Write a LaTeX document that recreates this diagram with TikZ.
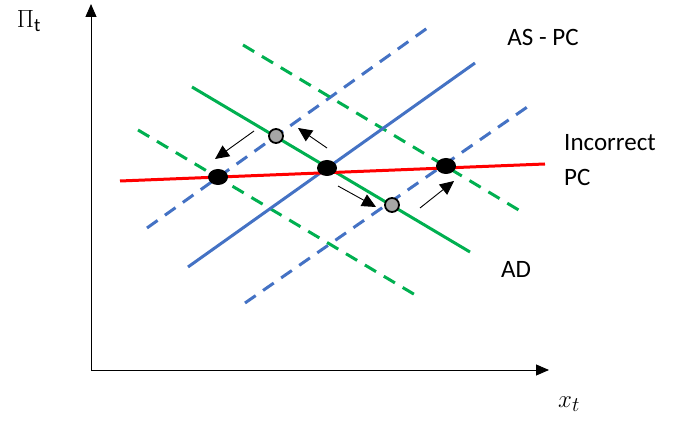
\documentclass[tikz,border=0pt]{standalone}
\usepackage{fontspec}
\setmainfont{Carlito}
\usetikzlibrary{arrows.meta,shapes.geometric}
\definecolor{ablue}{HTML}{4472C4}
\definecolor{agreen}{HTML}{00B050}
\definecolor{ared}{HTML}{FF0000}
\definecolor{cgray}{HTML}{A6A6A6}
\tikzset{
  axisline/.style={line width=1pt,-{Triangle[length=13pt,width=11pt]}},
  curve/.style={line width=3pt},
  dashcurve/.style={line width=3pt,dash pattern=on 13pt off 9pt},
  movearrow/.style={line width=0.9pt,-{Triangle[length=14pt,width=13pt]}},
  eqdot/.style={ellipse,fill=black,minimum width=20pt,minimum height=16pt,inner sep=0pt},
  tmpdot/.style={circle,fill=cgray,draw=black,line width=1.8pt,minimum size=14pt,inner sep=0pt},
  lbl/.style={font=\fontsize{25}{29}\selectfont,inner sep=0pt}
}
\begin{document}
\begin{tikzpicture}[x=1pt,y=-1pt]
\useasboundingbox (0,0) rectangle (679,427);
% axes
\coordinate (O) at (91,370);
\coordinate (ytop) at (91,4);
\coordinate (xend) at (549,370);
\draw[axisline] (O) -- (ytop);
\draw[axisline] (O) -- (xend);
% dashed shifted curves
\coordinate (bu1) at (147,228); \coordinate (bu2) at (433,24);
\coordinate (bl1) at (245,303); \coordinate (bl2) at (533,103);
\coordinate (gu1) at (243,45);  \coordinate (gu2) at (522,212);
\coordinate (gl1) at (138,130); \coordinate (gl2) at (417,296);
\draw[dashcurve,ablue] (bu1) -- (bu2);
\draw[dashcurve,ablue] (bl1) -- (bl2);
\draw[dashcurve,agreen] (gu1) -- (gu2);
\draw[dashcurve,agreen] (gl1) -- (gl2);
% solid curves
\coordinate (as1) at (188,267); \coordinate (as2) at (475,63);
\coordinate (ad1) at (192,87);  \coordinate (ad2) at (470,252);
\draw[curve,ablue] (as1) -- (as2);
\draw[curve,agreen] (ad1) -- (ad2);
\coordinate (pc1) at (120,181); \coordinate (pc2) at (545,164);
\draw[curve,ared] (pc1) -- (pc2);
% points
\node[eqdot] (E0) at (327,168) {};
\node[eqdot] (EL) at (218,177) {};
\node[eqdot] (ER) at (446,166) {};
\node[tmpdot] (TU) at (276,136) {};
\node[tmpdot] (TD) at (392,205) {};
% movement arrows
\coordinate (a1s) at (327,148); \coordinate (a1e) at (298,128);
\coordinate (a2s) at (254,131); \coordinate (a2e) at (215,159);
\coordinate (a3s) at (338,186); \coordinate (a3e) at (376,207);
\coordinate (a4s) at (420,208); \coordinate (a4e) at (454,181);
\draw[movearrow] (a1s) -- (a1e);
\draw[movearrow] (a2s) -- (a2e);
\draw[movearrow] (a3s) -- (a3e);
\draw[movearrow] (a4s) -- (a4e);
% labels
\node[font=\fontsize{27}{31}\selectfont] (ylab) at (29,21) {$\Pi_{\mathrm{t}}$};
\node[font=\fontsize{32}{36}\selectfont] (xlab) at (569,404) {$x_t$};
\node[lbl] (aspc) at (543,37) {AS - PC};
\node[lbl,anchor=west] (inc) at (564,143) {Incorrect};
\node[lbl,anchor=west] (pc) at (564,177) {PC};
\node[lbl] (adl) at (516,269) {AD};
\end{tikzpicture}
\end{document}
